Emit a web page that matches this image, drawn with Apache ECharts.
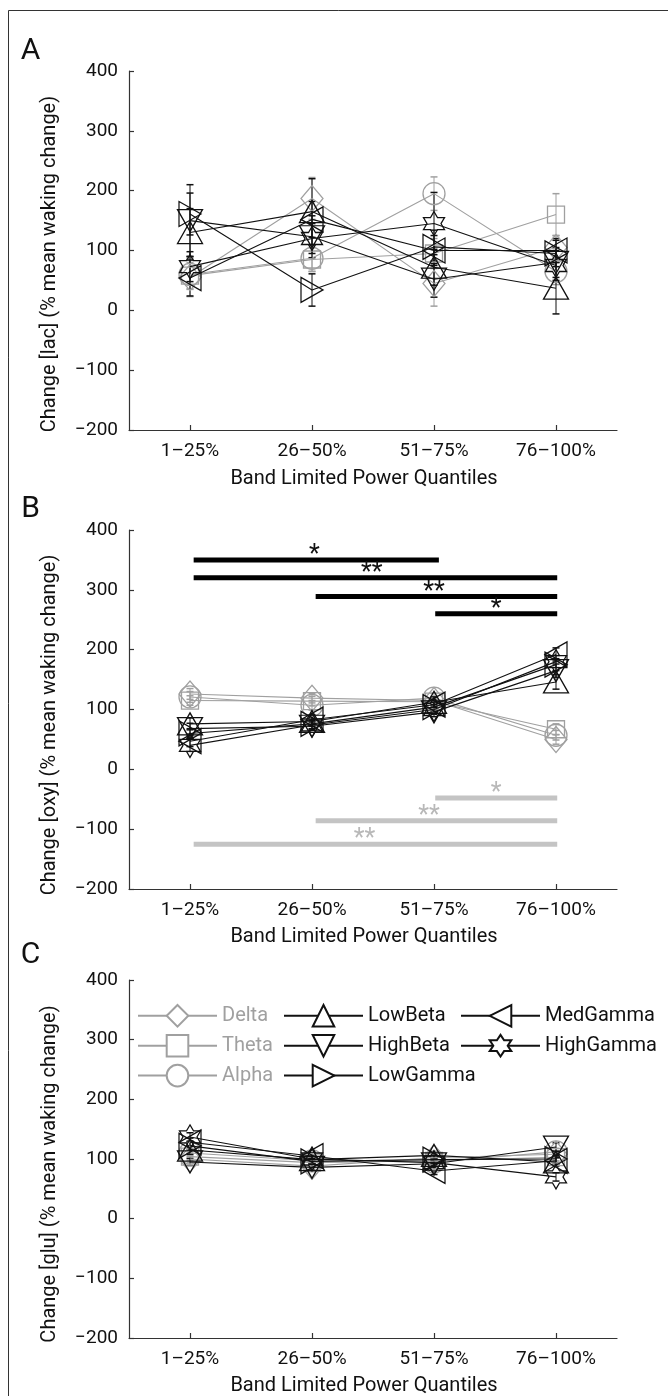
<!DOCTYPE html>
<html>
<head>
<meta charset="utf-8">
<script src="https://cdn.jsdelivr.net/npm/echarts@6/dist/echarts.min.js"></script>
<style>
  html, body { margin: 0; padding: 0; background: #fff; }
  #charts { width: 668px; height: 1396px; }
</style>
</head>
<body>
<div id="charts"></div>
<script>
const quantiles = ['1–25%', '26–50%', '51–75%', '76–100%'];
const bands = ['Delta', 'Theta', 'Alpha', 'LowBeta', 'HighBeta', 'LowGamma', 'MedGamma', 'HighGamma'];
const yTicks = [-200, -100, 0, 100, 200, 300, 400];

// A: lactate, one row per band (mean, then sem)
const lacMean = [
    [55, 187, 45, 105],
    [58, 85, 95, 160],
    [60, 87, 195, 65],
    [130, 165, 72, 37],
    [150, 123, 52, 80],
    [161, 34, 106, 95],
    [54, 152, 100, 100],
    [73, 120, 145, 75]
];
const lacSem = [
    [32, 35, 38, 20],
    [22, 20, 25, 35],
    [25, 22, 28, 22],
    [40, 55, 30, 43],
    [60, 35, 30, 25],
    [35, 27, 28, 22],
    [30, 30, 25, 20],
    [25, 25, 52, 25]
];

// B: oxygen
const oxyMean = [
    [126, 119, 115, 50],
    [115, 114, 113, 67],
    [121, 107, 119, 57],
    [76, 80, 112, 146],
    [68, 72, 96, 165],
    [60, 76, 104, 175],
    [47, 83, 108, 192],
    [40, 74, 100, 180]
];
const oxySem = [
    [9, 8, 7, 8],
    [8, 8, 7, 9],
    [9, 8, 8, 8],
    [10, 8, 9, 12],
    [9, 7, 8, 11],
    [8, 8, 8, 10],
    [9, 8, 8, 11],
    [10, 8, 8, 10]
];
// significance bars: [from, to, y, star x]
const oxySigBlack = [[1.03, 3.04, 350, 2.02], [1.03, 4.01, 320, 2.49], [2.03, 4.01, 289, 3.0], [3.01, 4.01, 260, 3.51]];
const oxySigBlackStars = ['*', '**', '**', '*'];
const oxySigGray = [[3.01, 4.01, -48, 3.51], [2.03, 4.01, -86, 2.96], [1.03, 4.01, -125, 2.43]];
const oxySigGrayStars = ['*', '**', '**'];

// C: glutamate
const gluMean = [
    [100, 88, 102, 108],
    [104, 94, 97, 103],
    [110, 97, 95, 112],
    [115, 99, 106, 95],
    [95, 86, 92, 120],
    [122, 96, 99, 100],
    [128, 105, 80, 97],
    [137, 100, 94, 70]
];
const gluSem = [
    [6, 5, 5, 6],
    [6, 5, 5, 6],
    [6, 5, 5, 6],
    [7, 6, 6, 7],
    [6, 5, 5, 7],
    [7, 5, 6, 6],
    [7, 6, 6, 6],
    [7, 6, 6, 7]
];

const GRAY = '#a0a0a0';
const BLACK = '#111';
const AXIS = '#333';
const FONT = 'Roboto, "Liberation Sans", sans-serif';
const HEXAGRAM = 'path://M100 0L128.87 50L186.6 50L157.7 100L186.6 150L128.87 150L100 200L71.13 150L13.4 150L42.3 100L13.4 50L71.13 50Z';

const bandColor = [GRAY, GRAY, GRAY, BLACK, BLACK, BLACK, BLACK, BLACK];
const bandSymbol = ['diamond', 'rect', 'circle', 'triangle', 'triangle', 'triangle', 'triangle', HEXAGRAM];
const bandRotate = [0, 0, 0, 0, 180, -90, 90, 0];
const bandSize = [[22, 26], [17, 17], [22, 22], [25, 22], [25, 22], [25, 22], [25, 22], [21, 24]];

const grids = [
    {left: 129, top: 71, width: 488, height: 359},
    {left: 129, top: 530, width: 488, height: 359},
    {left: 129, top: 980, width: 488, height: 358}
];
const yNames = ['Change [lac] (% mean waking change)', 'Change [oxy] (% mean waking change)', 'Change [glu] (% mean waking change)'];

var chartDom = document.getElementById('charts');
var myChart = echarts.init(chartDom, null, {renderer: 'canvas'});

makeXAxis = gridIndex => ({
    type: 'value',
    gridIndex,
    min: 0.5,
    max: quantiles.length + 0.5,
    axisLine: {onZero: false, lineStyle: {color: AXIS, width: 1.2}},
    axisTick: {show: true, inside: true, length: 5, customValues: [1, 2, 3, 4], lineStyle: {color: AXIS, width: 1.2}},
    axisLabel: {
        customValues: [1, 2, 3, 4],
        formatter: v => quantiles[Math.round(v) - 1],
        margin: 12, color: '#111', fontSize: 19, fontFamily: FONT
    },
    splitLine: {show: false}
});

makeYAxis = gridIndex => ({
    type: 'value',
    gridIndex,
    min: yTicks[0],
    max: yTicks[yTicks.length - 1],
    interval: yTicks[1] - yTicks[0],
    axisLine: {show: true, onZero: false, lineStyle: {color: AXIS, width: 1.2}},
    axisTick: {show: true, inside: true, length: 5, lineStyle: {color: AXIS, width: 1.2}},
    axisLabel: {
        formatter: v => v < 0 ? '\u2212' + (-v) : String(v),
        margin: 11, color: '#111', fontSize: 19, fontFamily: FONT
    },
    splitLine: {show: false}
});

bandSeries = (means, gridIndex) => bands.map((name, i) => ({
    name,
    type: 'line',
    xAxisIndex: gridIndex,
    yAxisIndex: gridIndex,
    data: means[i].map((v, k) => [k + 1, v]),
    symbol: bandSymbol[i],
    symbolSize: bandSize[i],
    symbolRotate: bandRotate[i],
    lineStyle: {color: bandColor[i], width: 1.1},
    itemStyle: {color: 'rgba(255,255,255,0)', borderColor: bandColor[i], borderWidth: 1.3},
    z: i < 3 ? 3 : 4,
    silent: true,
    emphasis: {disabled: true}
}));

renderErr = (params, api) => {
    const x = api.value(0);
    const lo = api.coord([x, api.value(1)]);
    const hi = api.coord([x, api.value(2)]);
    const stroke = api.value(3) ? GRAY : BLACK;
    const w = 3.5;
    return {
        type: 'group',
        children: [
            {type: 'line', shape: {x1: lo[0], y1: lo[1], x2: hi[0], y2: hi[1]}, style: {stroke, lineWidth: 1}},
            {type: 'line', shape: {x1: lo[0] - w, y1: lo[1], x2: lo[0] + w, y2: lo[1]}, style: {stroke, lineWidth: 1.5}},
            {type: 'line', shape: {x1: hi[0] - w, y1: hi[1], x2: hi[0] + w, y2: hi[1]}, style: {stroke, lineWidth: 1.5}}
        ]
    };
};

errorSeries = (means, sems, gridIndex) => {
    let rows = [];
    bands.forEach((b, i) => {
        means[i].forEach((m, k) => {
            rows = [...rows, [k + 1, m - sems[i][k], m + sems[i][k], i < 3 ? 1 : 0]];
        });
    });
    return {
        type: 'custom',
        xAxisIndex: gridIndex,
        yAxisIndex: gridIndex,
        data: rows,
        encode: {x: 0, y: [1, 2]},
        renderItem: renderErr,
        silent: true,
        z: 2
    };
};

sigSeries = (rows, stars, barColor, starColor) => ({
    type: 'custom',
    xAxisIndex: 1,
    yAxisIndex: 1,
    data: rows,
    encode: {x: [0, 1], y: 2},
    silent: true,
    z: 5,
    renderItem: (params, api) => {
        const a = api.coord([api.value(0), api.value(2)]);
        const b = api.coord([api.value(1), api.value(2)]);
        const s = api.coord([api.value(3), api.value(2)]);
        return {
            type: 'group',
            children: [
                {type: 'rect', shape: {x: a[0], y: a[1] - 2.5, width: b[0] - a[0], height: 5}, style: {fill: barColor}},
                {type: 'text', x: s[0], y: a[1] - 4, style: {text: stars[params.dataIndex], fill: starColor, font: '25px ' + FONT, align: 'center', verticalAlign: 'middle'}}
            ]
        };
    }
});

legendBase = (names, left, color) => ({
    data: names,
    orient: 'vertical',
    left,
    top: 1004,
    padding: 0,
    itemWidth: 79,
    itemHeight: 27,
    itemGap: 6.3,
    selectedMode: false,
    itemStyle: {color: '#fff'},
    textStyle: {color, fontSize: 20, fontFamily: FONT}
});

const panelLetters = [['A', 51], ['B', 509], ['C', 955]];
const xNameY = [479, 937, 1386];
const yNameY = [264, 725, 1174];

let graphics = [
    {type: 'rect', shape: {x: 8.5, y: 10.5, width: 700, height: 1500}, style: {fill: 'none', stroke: '#333', lineWidth: 1}, silent: true}
];
panelLetters.forEach(([txt, y]) => {
    graphics = [...graphics, {type: 'text', x: 30.5, y, style: {text: txt, font: '30px ' + FONT, fill: '#111', align: 'center', verticalAlign: 'middle'}}];
});
xNameY.forEach(y => {
    graphics = [...graphics, {type: 'text', x: 364, y, style: {text: 'Band Limited Power Quantiles', font: '20px ' + FONT, fill: '#111', align: 'center', verticalAlign: 'middle'}}];
});
yNameY.forEach((y, i) => {
    graphics = [...graphics, {type: 'text', x: 50, y, rotation: Math.PI / 2, style: {text: yNames[i], font: '20px ' + FONT, fill: '#111', align: 'center', verticalAlign: 'middle'}}];
});

var option = {
    animation: false,
    backgroundColor: '#fff',
    grid: grids,
    xAxis: [0, 1, 2].map(makeXAxis),
    yAxis: [0, 1, 2].map(makeYAxis),
    legend: [
        legendBase(bands.slice(0, 3), 137, GRAY),
        legendBase(bands.slice(3, 6), 283, BLACK),
        legendBase(bands.slice(6), 460, BLACK)
    ],
    graphic: graphics,
    series: [
        errorSeries(lacMean, lacSem, 0),
        ...bandSeries(lacMean, 0),
        errorSeries(oxyMean, oxySem, 1),
        ...bandSeries(oxyMean, 1),
        sigSeries(oxySigBlack, oxySigBlackStars, '#000', '#111'),
        sigSeries(oxySigGray, oxySigGrayStars, '#c4c4c4', '#b8b8b8'),
        errorSeries(gluMean, gluSem, 2),
        ...bandSeries(gluMean, 2)
    ]
};

myChart.setOption(option);
</script>
</body>
</html>
